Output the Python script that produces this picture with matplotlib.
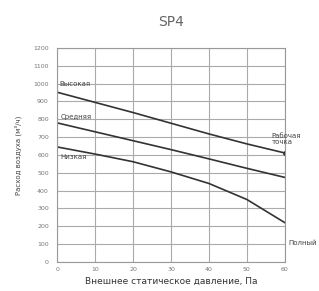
import matplotlib
matplotlib.use("Agg")
import matplotlib.pyplot as plt

# data
pressure = [0, 10, 20, 30, 40, 50, 60]
high = [952, 895, 838, 778, 718, 662, 611]
medium = [780, 730, 680, 630, 578, 525, 474]
low = [645, 605, 562, 505, 440, 350, 220]
x_ticks = [0, 10, 20, 30, 40, 50, 60]
y_ticks = list(range(0, 1300, 100))

plt.rcParams['font.family'] = ['DejaVu Sans']

fig = plt.figure(figsize=(3.19, 2.91), dpi=100)
ax = fig.add_axes([0.179, 0.10, 0.714, 0.735])

line_kw = dict(color='#333333', lw=1.2)
ax.plot(pressure, high, **line_kw)
ax.plot(pressure, medium, **line_kw)
ax.plot(pressure, low, **line_kw)
ax.plot(pressure[-1], high[-1], 'o', color='#333333', ms=2.5)

ax.set_xlim(0, 60)
ax.set_ylim(0, 1200)
ax.set_xticks(x_ticks)
ax.set_yticks(y_ticks)
ax.tick_params(axis='y', labelsize=4.5, colors='#777777', length=0, pad=6)
ax.tick_params(axis='x', labelsize=4.5, colors='#777777', length=0, pad=4)
ax.grid(True, color='#aaaaaa', lw=0.8)
for s in ax.spines.values():
    s.set_color('#999999')
    s.set_linewidth(0.8)

txt = dict(fontsize=5, color='#444444')
ax.text(0.6, 1000, 'Высокая', va='center', **txt)
ax.text(0.8, 815, 'Средняя', va='center', **txt)
ax.text(0.8, 590, 'Низкая', va='center', **txt)
ax.text(56.5, 690, 'Рабочая\nточка', va='center', linespacing=1.1, clip_on=False, **txt)
ax.text(61, 107, 'Полный', va='center', clip_on=False, **txt)

ax.set_title('SP4', fontsize=10, color='#666666', pad=16)
ax.set_xlabel('Внешнее статическое давление, Па', fontsize=6.5, color='#333333', labelpad=3)
ax.set_ylabel('Расход воздуха (м³/ч)', fontsize=5, color='#444444', labelpad=8)

fig.savefig('out.png', dpi=100)
